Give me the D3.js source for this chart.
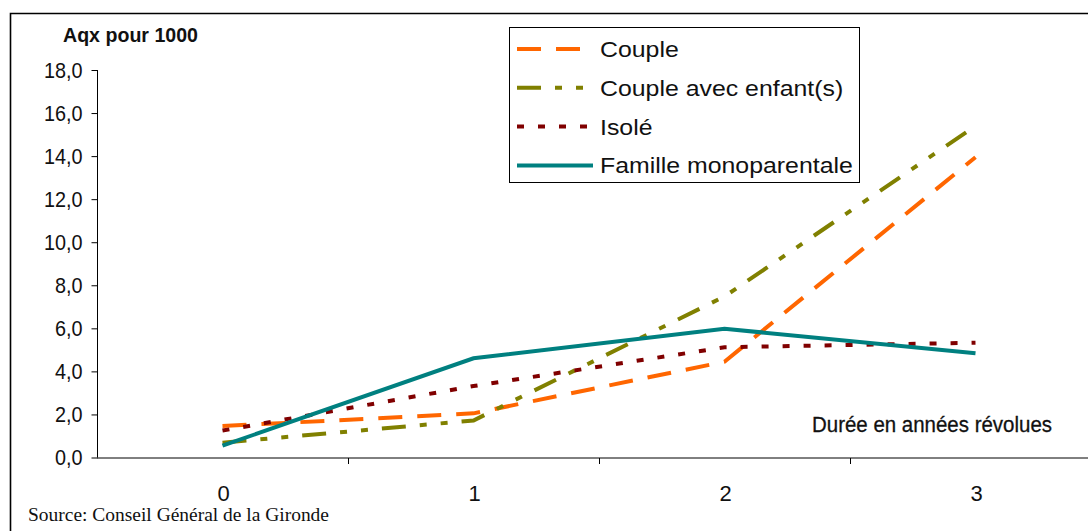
<!DOCTYPE html>
<html lang="fr">
<head>
    <meta charset="UTF-8">
    <title>Aqx pour 1000</title>
    <style>
        body { margin: 0; background: #fff; }
        svg { display: block; }
        .sans { font-family: "Liberation Sans", Arial, sans-serif; }
        .serif { font-family: "Liberation Serif", "Times New Roman", serif; }
        .axis path, .axis line { stroke: #000; }
    </style>
</head>
<body>
    <script src="https://d3js.org/d3.v7.min.js"></script>
    <script>
        // durée en années révolues
        const categories = ["0", "1", "2", "3"];
        const couple = [1.46, 2.05, 4.45, 13.95];
        const coupleEnfants = [0.69, 1.72, 7.48, 15.4];
        const isole = [1.25, 3.32, 5.12, 5.33];
        const monoparentale = [0.55, 4.61, 5.98, 4.84];
        const yTicks = [0, 2, 4, 6, 8, 10, 12, 14, 16, 18];

        const series = [
            { name: "Couple", values: couple, color: "#ff6600", dash: "24,15" },
            { name: "Couple avec enfant(s)", values: coupleEnfants, color: "#808000", dash: "24,14,7,14,7,14" },
            { name: "Isolé", values: isole, color: "#800000", dash: "7,14" },
            { name: "Famille monoparentale", values: monoparentale, color: "#008080", dash: null }
        ];

        const W = 1088, H = 531;
        const svg = d3.select("body").append("svg")
            .attr("width", W)
            .attr("height", H);

        // cadre
        svg.append("path")
            .attr("d", `M10.5,${H} V13.5 H${W}`)
            .attr("fill", "none")
            .attr("stroke", "#000")
            .attr("stroke-width", 1.6);

        const x = d3.scaleBand()
            .domain(categories)
            .range([97, 1101])
            .paddingInner(0);

        const y = d3.scaleLinear()
            .domain([0, 18])
            .range([457.5, 70]);

        // axe Y
        const yAxis = svg.append("g")
            .attr("class", "axis sans")
            .attr("transform", "translate(97.5,0)")
            .call(d3.axisLeft(y)
                .tickValues(yTicks)
                .tickSize(6)
                .tickSizeOuter(0)
                .tickPadding(9)
                .tickFormat(d => d3.format(".1f")(d).replace(".", ",")));
        yAxis.select(".domain").attr("d", `M0,${y(18)}V${y(0)}`);
        yAxis.selectAll("text")
            .attr("font-size", 22)
            .attr("fill", "#111")
            .each(function() {
                // police étroite : on compresse la largeur naturelle
                const w = this.getComputedTextLength();
                d3.select(this)
                    .attr("textLength", w * 0.9)
                    .attr("lengthAdjust", "spacingAndGlyphs");
            });

        // axe X
        const xAxisG = svg.append("g")
            .attr("class", "axis")
            .attr("transform", `translate(0,${y(0) + 0.5})`);
        xAxisG.append("line")
            .attr("x1", 97).attr("x2", W)
            .attr("stroke", "#000");
        xAxisG.selectAll(".tk")
            .data(categories.slice(1))
            .join("line")
            .attr("class", "tk")
            .attr("x1", d => x(d) + 0.5).attr("x2", d => x(d) + 0.5)
            .attr("y1", 0).attr("y2", 6)
            .attr("stroke", "#000");
        xAxisG.selectAll(".lbl")
            .data(categories)
            .join("text")
            .attr("class", "lbl sans")
            .attr("x", d => x(d) + x.bandwidth() / 2 + 1)
            .attr("y", 43)
            .attr("text-anchor", "middle")
            .attr("font-size", 22)
            .attr("fill", "#111")
            .text(d => d);

        // courbes
        const line = d3.line()
            .x((d, i) => x(categories[i]) + x.bandwidth() / 2)
            .y(d => y(d));

        svg.append("g")
            .selectAll("path")
            .data(series)
            .join("path")
            .attr("d", d => line(d.values))
            .attr("fill", "none")
            .attr("stroke", d => d.color)
            .attr("stroke-width", 4)
            .attr("stroke-dasharray", d => d.dash);

        // titres
        svg.append("text")
            .attr("class", "sans")
            .attr("x", 63).attr("y", 42)
            .attr("font-size", 21)
            .attr("font-weight", "bold")
            .attr("textLength", 135)
            .attr("lengthAdjust", "spacingAndGlyphs")
            .attr("fill", "#111")
            .text("Aqx pour 1000");

        svg.append("text")
            .attr("class", "sans")
            .attr("x", 812).attr("y", 432)
            .attr("font-size", 22)
            .attr("textLength", 240)
            .attr("lengthAdjust", "spacingAndGlyphs")
            .attr("fill", "#111")
            .attr("stroke", "#111")
            .attr("stroke-width", 0.3)
            .text("Durée en années révolues");

        svg.append("text")
            .attr("class", "serif")
            .attr("x", 28).attr("y", 521)
            .attr("font-size", 19)
            .attr("textLength", 301)
            .attr("lengthAdjust", "spacingAndGlyphs")
            .attr("fill", "#111")
            .text("Source: Conseil Général de la Gironde");

        // légende
        const legend = svg.append("g");
        legend.append("rect")
            .attr("x", 509.5).attr("y", 27.5)
            .attr("width", 350).attr("height", 155)
            .attr("fill", "#fff")
            .attr("stroke", "#000");

        const rows = legend.selectAll(".row")
            .data(series)
            .join("g")
            .attr("class", "row")
            .attr("transform", (d, i) => `translate(0,${49 + i * 38.8})`);

        rows.append("line")
            .attr("x1", 517).attr("x2", 593)
            .attr("stroke", d => d.color)
            .attr("stroke-width", 4)
            .attr("stroke-dasharray", d => d.dash);

        rows.append("text")
            .attr("class", "sans")
            .attr("transform", "translate(600,8) scale(1.13,1)")
            .attr("font-size", 22)
            .attr("fill", "#111")
            .text(d => d.name);
    </script>
</body>
</html>
